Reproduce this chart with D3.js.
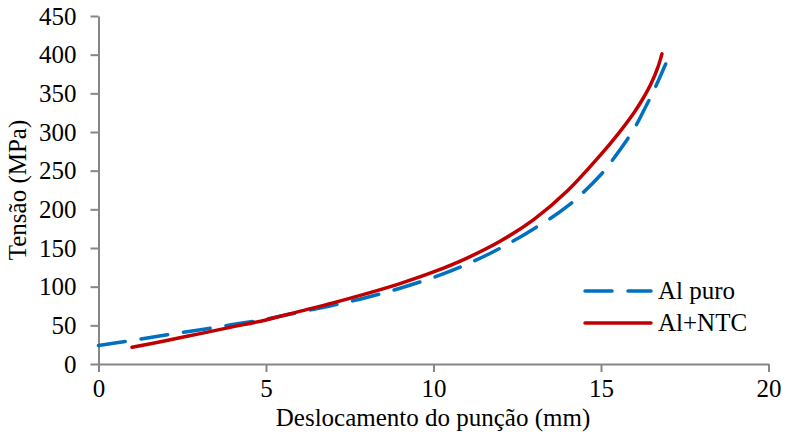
<!DOCTYPE html>
<html lang="pt">
<head>
  <meta charset="UTF-8">
  <title>Tensão x Deslocamento</title>
  <script src="https://cdnjs.cloudflare.com/ajax/libs/d3/7.8.5/d3.min.js"></script>
  <style>
    body { margin: 0; background: #fff; }
    svg text {
      font-family: "Times New Roman", Tinos, "Liberation Serif", "DejaVu Serif", serif !important;
      fill: #000;
    }
    .axis path, .axis line { stroke: #868686; stroke-width: 2px; }
  </style>
</head>
<body>
  <svg width="787" height="436"></svg>
  <script>
    // Al puro (curva tracejada azul)
    var xPuro = [0, 1, 2, 3, 4, 5, 6, 7, 8, 9, 10, 11, 12, 13, 14, 15, 15.5, 16, 16.36, 16.56, 16.93]
    var yPuro = [24, 30.5, 37.5, 44, 51, 58, 67, 76, 86, 98, 112, 129, 150, 175, 204, 245, 273, 305, 335, 352, 388]

    // Al+NTC (curva contínua vermelha)
    var xNtc = [1, 2, 3, 4, 5, 6, 7, 8, 9, 10, 11, 12, 13, 14, 15, 15.5, 16, 16.25, 16.5, 16.7, 16.82]
    var yNtc = [21.6, 30, 39, 48, 57, 68, 79, 91, 104, 119, 137, 159, 187, 224, 271, 297, 326, 343, 363, 384, 401]

    var xTicks = [0, 5, 10, 15, 20]
    var yTicks = [0, 50, 100, 150, 200, 250, 300, 350, 400, 450]

    var series = [
      { name: "Al puro", xs: xPuro, ys: yPuro, color: "#0070C0", dash: "27,16" },
      { name: "Al+NTC", xs: xNtc, ys: yNtc, color: "#C00000", dash: null }
    ]

    var svg = d3.select("svg")
    var x = d3.scaleLinear().domain([0, 20]).range([98.5, 768.5])
    var y = d3.scaleLinear().domain([0, 450]).range([364, 16])

    // eixos
    svg.append("g").attr("class", "axis")
      .attr("transform", "translate(0,364)")
      .call(d3.axisBottom(x).tickValues(xTicks).tickSize(8).tickPadding(7).tickSizeOuter(0))
    svg.append("g").attr("class", "axis")
      .attr("transform", "translate(98.5,0)")
      .call(d3.axisLeft(y).tickValues(yTicks).tickSize(8).tickPadding(14).tickSizeOuter(0))
    svg.selectAll(".axis").attr("font-family", null).attr("font-size", null)
    svg.selectAll(".axis text").style("font-size", "25px")

    // curvas
    var line = d3.line().curve(d3.curveCatmullRom.alpha(0.5))
    series.forEach(function (s) {
      var pts = s.xs.map(function (v, i) { return [x(v), y(s.ys[i])] })
      svg.append("path")
        .attr("d", line(pts))
        .attr("fill", "none")
        .attr("stroke", s.color)
        .attr("stroke-width", 3.5)
        .attr("stroke-linecap", "round")
        .attr("stroke-dasharray", s.dash)
    })

    // títulos dos eixos
    svg.append("text")
      .attr("x", 433).attr("y", 426)
      .attr("text-anchor", "middle")
      .style("font-size", "25px")
      .text("Deslocamento do punção (mm)")
    svg.append("text")
      .attr("transform", "translate(26,190) rotate(-90)")
      .attr("text-anchor", "middle")
      .style("font-size", "25px")
      .text("Tensão (MPa)")

    // legenda
    var leg = svg.append("g")
    series.forEach(function (s, i) {
      var ly = 291 + i * 32
      leg.append("line")
        .attr("x1", 585).attr("x2", 651)
        .attr("y1", ly).attr("y2", ly)
        .attr("stroke", s.color)
        .attr("stroke-width", 3.5)
        .attr("stroke-linecap", "round")
        .attr("stroke-dasharray", s.dash)
      leg.append("text")
        .attr("x", 658).attr("y", ly + 8)
        .style("font-size", "25px")
        .text(s.name)
    })
  </script>
</body>
</html>
